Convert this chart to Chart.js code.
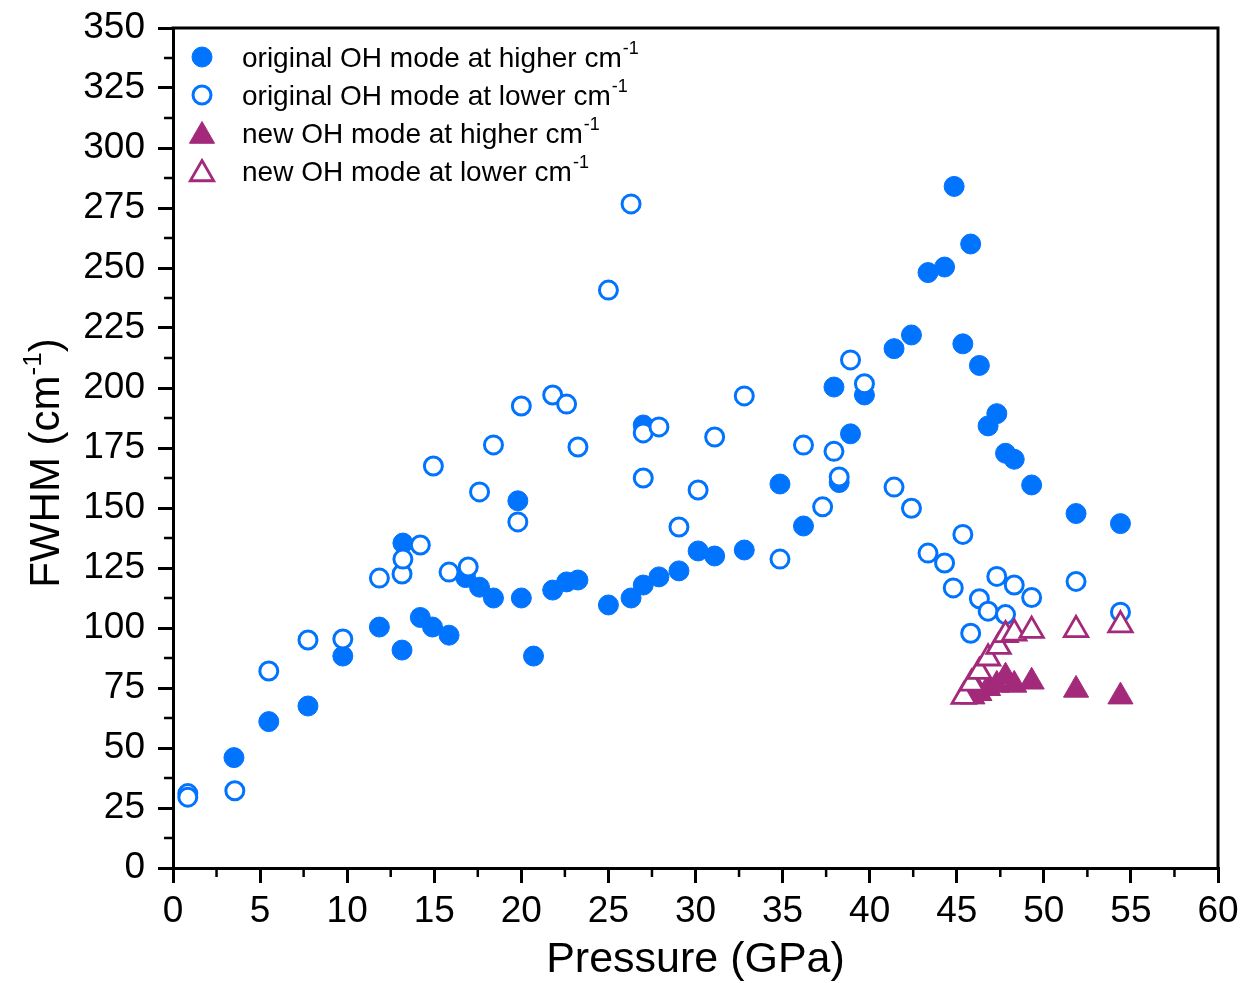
<!DOCTYPE html>
<html>
<head>
<meta charset="utf-8">
<script src="https://cdn.jsdelivr.net/npm/chart.js@4/dist/chart.umd.min.js"></script>
<style>
html,body{margin:0;padding:0;background:#fff;}
#wrap{width:1242px;height:983px;position:relative;}
</style>
</head>
<body>
<div id="wrap"><canvas id="c" width="1242" height="983"></canvas></div>
<script>
// ---- data (pressure GPa, FWHM cm-1) ----
const origHigherP = [3.5,5.5,7.75,9.75,11.85,13.15,13.2,14.2,14.9,15.85,16.8,17.6,18.4,19.8,20.0,20.7,21.8,22.6,23.25,25.0,26.3,27.0,27.0,27.9,29.05,30.15,31.1,32.8,34.85,36.2,37.95,38.25,38.9,39.7,41.4,42.4,43.35,44.3,44.85,45.35,45.8,46.3,46.8,47.3,47.8,48.3,49.3,51.85,54.4];
const origHigherW = [46,61,67.5,88.3,100.4,90.8,135.4,104.4,100.4,97,121,117,112.5,153,112.5,88.3,115.8,119.2,120,109.6,112.5,117.9,184.6,121.3,123.8,132.1,130,132.5,160,142.5,200.4,160.6,180.9,197.1,216.4,222.1,248.1,250.4,284,218.4,260,209.4,184.2,189.3,172.8,170.3,159.6,147.7,143.5];

const origLowerP = [0.85,0.85,3.55,5.5,7.75,9.75,11.85,13.15,13.2,14.2,14.95,15.85,16.95,17.6,18.4,19.8,20.0,21.8,22.6,23.25,25.0,26.3,27.0,27.0,27.9,29.05,30.15,31.1,32.8,34.85,36.2,37.3,37.95,38.25,38.9,39.7,41.4,42.4,43.35,44.3,44.8,45.35,45.8,46.3,46.8,47.3,47.8,48.3,49.3,51.85,54.4];
const origLowerW = [31,29.5,32.2,82.1,95,95.4,120.8,122.5,128.7,134.6,167.5,123.3,125.4,156.7,176.3,144.2,192.5,197.1,193.3,175.4,240.8,276.7,181.3,162.5,183.8,142.1,157.5,179.6,196.7,128.7,176.2,150.5,173.6,162.9,211.7,201.8,158.7,149.9,131.2,127.1,116.7,139,97.8,112.2,107,121.5,105.6,117.9,112.7,119.4,106.6];

const newHigherP = [45.9,46.3,46.8,47.3,47.8,48.3,49.3,51.85,54.4];
const newHigherW = [71.4,72.8,74.9,76.3,79.7,76.3,77.6,74.2,71.4];

const newLowerP = [45.4,45.85,46.3,46.8,47.4,47.8,48.3,49.3,51.85,54.4];
const newLowerW = [71.4,76.9,81.8,87.4,92.2,97.1,97.8,98.9,99.2,101.2];

const seriesNames = ['original OH mode at higher cm','original OH mode at lower cm','new OH mode at higher cm','new OH mode at lower cm'];
const xTickStep = 5, xMin = 0, xMax = 60;
const yTickStep = 25, yMin = 0, yMax = 350;
const xTitle = 'Pressure (GPa)';
const yTitleMain = 'FWHM (cm';
const superscript = '-1';

// ---- styling ----
const BLUE = '#0073ff';
const PURPLE = '#a3297a';
const FONT = '"Liberation Sans", Arial, Helvetica, sans-serif';

function pts(xs, ys){ return xs.map((v,i)=>({x:v, y:ys[i]})); }

const styles = [
  {pointStyle:'circle', radius:10, backgroundColor:BLUE, borderColor:BLUE, borderWidth:1, order:3},
  {pointStyle:'circle', radius:9, backgroundColor:'#fff', borderColor:BLUE, borderWidth:3, order:2},
  {pointStyle:'triangle', radius:14.5, backgroundColor:PURPLE, borderColor:PURPLE, borderWidth:1, order:1},
  {pointStyle:'triangle', radius:13.5, backgroundColor:'#fff', borderColor:PURPLE, borderWidth:2.8, order:0}
];
const seriesData = [
  pts(origHigherP, origHigherW),
  pts(origLowerP, origLowerW),
  pts(newHigherP, newHigherW),
  pts(newLowerP, newLowerW)
];

const datasets = seriesData.map((d,i)=>({
  label: seriesNames[i] + superscript,
  data: d,
  showLine:false,
  pointStyle: styles[i].pointStyle,
  pointRadius: styles[i].radius,
  pointHoverRadius: styles[i].radius,
  pointBackgroundColor: styles[i].backgroundColor,
  pointBorderColor: styles[i].borderColor,
  pointBorderWidth: styles[i].borderWidth,
  backgroundColor: styles[i].backgroundColor,
  borderColor: styles[i].borderColor,
  order: styles[i].order
}));

// plugin: frame, minor ticks, y title with superscript, legend with superscripts
const decor = {
  id:'decor',
  afterDraw(chart){
    const ctx = chart.ctx, a = chart.chartArea, xs = chart.scales.x, ys = chart.scales.y;
    ctx.save();
    ctx.strokeStyle = '#000';
    ctx.lineCap = 'butt';
    // top & right frame
    ctx.lineWidth = 3;
    ctx.beginPath();
    ctx.moveTo(a.left - 1.5, a.top);
    ctx.lineTo(a.right, a.top);
    ctx.lineTo(a.right, a.bottom + 1.5);
    ctx.stroke();
    // minor ticks
    ctx.lineWidth = 2.5;
    ctx.beginPath();
    for (let v = xMin + xTickStep/2; v < xMax; v += xTickStep){
      const px = xs.getPixelForValue(v);
      ctx.moveTo(px, a.bottom); ctx.lineTo(px, a.bottom + 9);
    }
    for (let v = yMin + yTickStep/2; v < yMax; v += yTickStep){
      const py = ys.getPixelForValue(v);
      ctx.moveTo(a.left, py); ctx.lineTo(a.left - 9, py);
    }
    ctx.stroke();

    // y title
    ctx.fillStyle = '#000';
    ctx.save();
    ctx.translate(59, 463);
    ctx.rotate(-Math.PI/2);
    const tf = '42px ' + FONT, sf = '26px ' + FONT;
    ctx.font = tf;
    const w1 = ctx.measureText(yTitleMain).width;
    ctx.font = sf;
    const w2 = ctx.measureText(superscript).width;
    ctx.font = tf;
    const w3 = ctx.measureText(')').width;
    const total = w1 + w2 + w3;
    let x0 = -total/2;
    ctx.textBaseline = 'alphabetic';
    ctx.textAlign = 'left';
    ctx.fillText(yTitleMain, x0, 0);
    ctx.font = sf;
    ctx.fillText(superscript, x0 + w1, -18);
    ctx.font = tf;
    ctx.fillText(')', x0 + w1 + w2, 0);
    ctx.restore();

    // legend
    const rows = [57, 95, 133, 171];
    const lf = '28px ' + FONT, lsf = '18px ' + FONT;
    rows.forEach((ry, i) => {
      const st = styles[i];
      ctx.fillStyle = st.backgroundColor;
      ctx.strokeStyle = st.borderColor;
      ctx.lineWidth = st.borderWidth;
      ctx.beginPath();
      if (st.pointStyle === 'circle') {
        ctx.arc(202, ry, st.radius, 0, Math.PI*2);
      } else {
        const r = st.radius, cy = ry + 3;
        ctx.moveTo(202, cy - r);
        ctx.lineTo(202 + r*Math.sin(2*Math.PI/3), cy - r*Math.cos(2*Math.PI/3));
        ctx.lineTo(202 + r*Math.sin(4*Math.PI/3), cy - r*Math.cos(4*Math.PI/3));
        ctx.closePath();
      }
      ctx.fill();
      if (st.borderWidth) ctx.stroke();
      ctx.fillStyle = '#000';
      ctx.font = lf;
      ctx.textAlign = 'left';
      ctx.textBaseline = 'alphabetic';
      ctx.fillText(seriesNames[i], 242, ry + 10);
      const tw = ctx.measureText(seriesNames[i]).width;
      ctx.font = lsf;
      ctx.fillText(superscript, 242 + tw + 1, ry - 3);
    });
    ctx.restore();
  }
};

new Chart(document.getElementById('c'), {
  type: 'scatter',
  data: { datasets },
  options: {
    responsive: false,
    devicePixelRatio: 1,
    animation: false,
    events: [],
    layout: { padding: { top: 28, right: 24, left: 0, bottom: 0 } },
    plugins: { legend: { display: false }, tooltip: { enabled: false } },
    scales: {
      x: {
        type: 'linear', min: xMin, max: xMax,
        ticks: { stepSize: xTickStep, color: '#000', font: { family: FONT, size: 37 }, padding: 7, maxRotation: 0, autoSkip: false },
        grid: { display: true, drawOnChartArea: false, drawTicks: true, tickLength: 15, lineWidth: 3, color: '#000' },
        border: { display: true, width: 3, color: '#000' },
        title: { display: true, text: xTitle, color: '#000', font: { family: FONT, size: 43 }, padding: { top: 0, bottom: -3 } },
        afterFit(s){ s.height = 115; s.paddingLeft = 0; s.paddingRight = 0; }
      },
      y: {
        type: 'linear', min: yMin, max: yMax,
        ticks: { stepSize: yTickStep, color: '#000', font: { family: FONT, size: 37 }, padding: 13, autoSkip: false },
        grid: { display: true, drawOnChartArea: false, drawTicks: true, tickLength: 15, lineWidth: 3, color: '#000' },
        border: { display: true, width: 3, color: '#000' },
        afterFit(s){ s.width = 173; s.paddingTop = 0; s.paddingBottom = 0; }
      }
    }
  },
  plugins: [decor]
});
</script>
</body>
</html>
